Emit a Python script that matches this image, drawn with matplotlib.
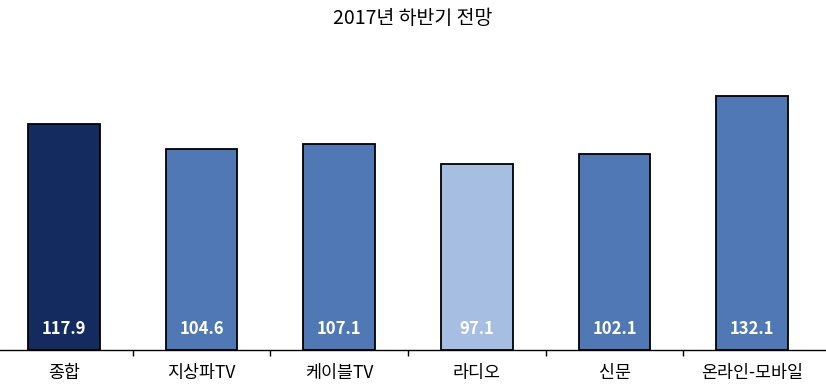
import matplotlib
matplotlib.use('Agg')
import matplotlib.pyplot as plt

plt.rcParams['font.family'] = ['Noto Sans CJK KR', 'DejaVu Sans']

categories = ['종합', '지상파TV', '케이블TV', '라디오', '신문', '온라인-모바일']
values = [117.9, 104.6, 107.1, 97.1, 102.1, 132.1]
colors = ['#132b5f', '#4f78b4', '#4f78b4', '#a5bee2', '#4f78b4', '#4f78b4']
title = '2017년 하반기 전망'

fig = plt.figure(figsize=(8.26, 3.88), dpi=100)
ax = fig.add_axes([0, 38 / 388, 1, 309 / 388])

x = range(len(categories))
ax.bar(x, values, width=0.52, color=colors, edgecolor='black', linewidth=1.3, zorder=2)

for i, v in zip(x, values):
    ax.text(i, 10.8, f'{v:.1f}', color='white', fontsize=12, fontweight='bold',
            ha='center', va='center', zorder=3)

ax.set_xlim(-0.464, 5.536)
ax.set_ylim(0, 161)

for s in ['top', 'right', 'left']:
    ax.spines[s].set_visible(False)
ax.spines['bottom'].set_linewidth(1.0)
ax.set_yticks([])

ax.set_xticks(list(x))
ax.set_xticklabels(categories, fontsize=12.5)
ax.tick_params(axis='x', which='major', length=0, pad=10)
ax.set_xticks([i + 0.5 for i in range(len(categories) - 1)], minor=True)
ax.tick_params(axis='x', which='minor', length=4, width=1.0, direction='out', color='black')

fig.text(0.5, 1 - 18 / 388, title, ha='center', va='center', fontsize=14)

plt.savefig('out.png', dpi=100)
